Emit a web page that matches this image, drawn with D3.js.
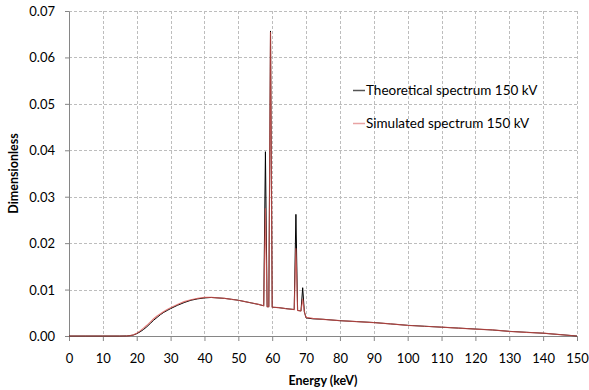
<html>
  <head>
    <script src="https://d3js.org/d3.v7.min.js"></script>
    <style>
      body { margin: 0; background: #fff; }
      text { font-family: Lato, "Open Sans", sans-serif; fill: #000; }
    </style>
  </head>
  <body>
    <svg width="589" height="390" id="chart"></svg>
    <script>
      // energy grid (keV) and the two spectra
      const energy = [0, 5, 10, 15, 17, 18, 19, 20, 21, 22, 23, 24, 25, 26, 27, 28, 29, 30,
        32, 34, 36, 38, 40, 42, 44, 46, 48, 50, 52, 54, 56, 57.5, 58, 58.5, 59, 59.5, 60,
        62, 64, 66.5, 67, 67.5, 68.5, 69, 69.5, 70, 72, 75, 80, 85, 90, 95, 100, 105,
        110, 115, 120, 125, 130, 135, 140, 145, 150];
      const theoretical = [0, 0, 0, 0, 0.00002, 0.00008, 0.0002, 0.0005, 0.0009, 0.0014, 0.0020,
        0.0027, 0.0034, 0.0040, 0.0046, 0.0051, 0.0055, 0.0059,
        0.0066, 0.0072, 0.0077, 0.0080, 0.0082, 0.0083, 0.0082, 0.0081, 0.0079, 0.0077,
        0.0074, 0.0071, 0.0068, 0.0065, 0.0397, 0.0063, 0.0063, 0.0657, 0.0062,
        0.0061, 0.0059, 0.0057, 0.0262, 0.0055, 0.0054, 0.0104, 0.0052, 0.0039, 0.0037,
        0.0036, 0.0033, 0.0031, 0.0029, 0.0026, 0.0023, 0.0021, 0.0019, 0.0017,
        0.0015, 0.0013, 0.0010, 0.0008, 0.0006, 0.0003, 0];
      const simulated = [0, 0, 0, 0, 0.00003, 0.0001, 0.00025, 0.0006, 0.0011, 0.0017, 0.0023,
        0.0030, 0.0037, 0.0043, 0.0048, 0.0053, 0.0057, 0.0061,
        0.0068, 0.0074, 0.0078, 0.0081, 0.0083, 0.0083, 0.0082, 0.0081, 0.0079, 0.0077,
        0.0074, 0.0071, 0.0068, 0.0065, 0.0275, 0.0063, 0.0063, 0.0655, 0.0062,
        0.0061, 0.0059, 0.0057, 0.0189, 0.0055, 0.0054, 0.0080, 0.0052, 0.0040, 0.0038,
        0.0036, 0.0033, 0.0031, 0.0029, 0.0026, 0.0023, 0.0021, 0.0019, 0.0017,
        0.0015, 0.0013, 0.0010, 0.0008, 0.0006, 0.0003, 0];

      const xTicks = d3.range(0, 151, 10);
      const yTicks = [0, 0.01, 0.02, 0.03, 0.04, 0.05, 0.06, 0.07];
      const seriesNames = ["Theoretical spectrum 150 kV", "Simulated spectrum 150 kV"];

      const svg = d3.select("svg#chart");
      const margins = { top: 11, right: 12, bottom: 54, left: 69 };
      const width = 589 - margins.left - margins.right;
      const height = 390 - margins.top - margins.bottom;

      const xScale = d3.scaleLinear().domain([0, 150]).range([0, width]);
      const yScale = d3.scaleLinear().domain([0, 0.07]).range([height, 0]);

      const chart = svg
        .append("g")
        .attr("transform", `translate(${margins.left}, ${margins.top})`);

      // dashed grid
      chart
        .append("g")
        .selectAll("line")
        .data(yTicks.slice(1))
        .join("line")
        .attr("x1", 0)
        .attr("x2", width)
        .attr("y1", (d) => Math.round(yScale(d)) + 0.5)
        .attr("y2", (d) => Math.round(yScale(d)) + 0.5)
        .style("stroke", "#bdbdbd")
        .style("stroke-dasharray", "3,2");
      chart
        .append("g")
        .selectAll("line")
        .data(xTicks.slice(1))
        .join("line")
        .attr("x1", (d) => Math.round(xScale(d)) + 0.5)
        .attr("x2", (d) => Math.round(xScale(d)) + 0.5)
        .attr("y1", 0)
        .attr("y2", height)
        .style("stroke", "#bdbdbd")
        .style("stroke-dasharray", "3,2");

      // axes
      const axisLeft = d3.axisLeft(yScale).tickValues(yTicks).tickFormat(d3.format(".2f")).tickSize(4).tickSizeOuter(0);
      const gy = chart.append("g").call(axisLeft);
      const axisBottom = d3.axisBottom(xScale).tickValues(xTicks).tickSize(5).tickSizeOuter(0);
      const gx = chart.append("g").attr("transform", `translate(0, ${height})`).call(axisBottom);
      [gx, gy].forEach((g) => {
        g.selectAll("path, line").style("stroke", "#868686");
        g.selectAll("text").style("font-size", "13px").style("font-family", "Lato, sans-serif");
      });
      gy.selectAll("text").attr("x", -14).attr("dy", "0.35em");
      gx.selectAll("text").attr("y", 18);

      // lines
      const points = (vals) => energy.map((e, i) => [e, vals[i]]);
      const line = d3
        .line()
        .x((d) => xScale(d[0]))
        .y((d) => yScale(d[1]));
      chart
        .append("path")
        .attr("d", line(points(theoretical)))
        .style("fill", "none")
        .style("stroke", "#000")
        .style("stroke-width", 1);
      chart
        .append("path")
        .attr("d", line(points(simulated)))
        .style("fill", "none")
        .style("stroke", "#d9534f")
        .style("stroke-opacity", 0.75)
        .style("stroke-width", 1.2);

      // legend
      const legendColors = ["#555", "#e8a3a3"];
      seriesNames.forEach((name, i) => {
        const y = 90.5 + i * 33;
        svg
          .append("line")
          .attr("x1", 353)
          .attr("x2", 365)
          .attr("y1", y)
          .attr("y2", y)
          .style("stroke", legendColors[i])
          .style("stroke-width", 1.5);
        svg
          .append("text")
          .attr("x", 366)
          .attr("y", y)
          .attr("dy", "0.35em")
          .style("font-size", "13.5px")
          .text(name);
      });

      // axis titles
      svg
        .append("text")
        .attr("x", margins.left + width / 2)
        .attr("y", 385)
        .attr("text-anchor", "middle")
        .style("font-size", "12.5px")
        .style("font-weight", "bold")
        .text("Energy (keV)");
      svg
        .append("text")
        .attr("transform", `translate(18, ${margins.top + height / 2}) rotate(-90)`)
        .attr("text-anchor", "middle")
        .style("font-size", "12.5px")
        .style("font-weight", "bold")
        .text("Dimensionless");
    </script>
  </body>
</html>
